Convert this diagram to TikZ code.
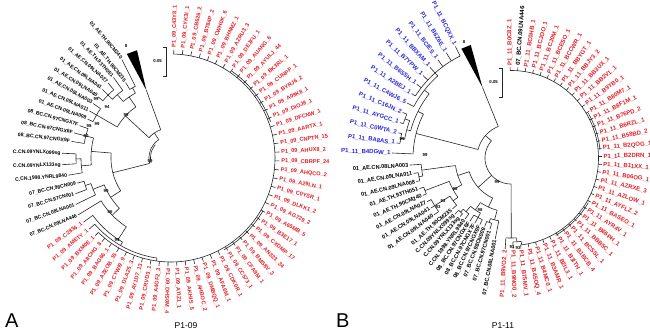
\documentclass[tikz,border=0pt]{standalone}
\usepackage{fontspec}
\setmainfont{Liberation Sans}
\definecolor{tred}{RGB}{228,30,36}
\definecolor{tblue}{RGB}{38,38,220}
\newcommand{\carc}[5]{\draw[br] plot[domain=#4:#5, samples=90, variable=\t] ({#1+#3*cos(\t)},{#2-#3*sin(\t)});}
\newcommand{\crad}[5]{\draw[br] ({#1+#4*cos(#3)},{#2-#4*sin(#3)}) -- ({#1+#5*cos(#3)},{#2-#5*sin(#3)});}
\newcommand{\rlab}[7]{%
 \pgfmathsetmacro{\myLX}{#2+#5*cos(#4)}%
 \pgfmathsetmacro{\myLY}{#3-#5*sin(#4)}%
 \pgfmathsetmacro{\myLC}{cos(#4)}%
 \ifdim\myLC pt<-0.06pt
   \pgfmathsetmacro{\myLR}{#4-180}%
   \node[#6, anchor=east, rotate=\myLR] (#1) at (\myLX,\myLY) {#7};%
 \else
   \node[#6, anchor=west, rotate=#4] (#1) at (\myLX,\myLY) {#7};%
 \fi}
\newcommand{\tlab}[7]{%
 \pgfmathsetmacro{\myLX}{#2+#5*cos(#4)}%
 \pgfmathsetmacro{\myLY}{#3-#5*sin(#4)}%
 \node[blabA, anchor=east, rotate=#6] (#1) at (\myLX,\myLY) {#7};}
\begin{document}
\begin{tikzpicture}[x=1pt,y=-1pt,
  br/.style={line width=0.6pt, black!85},
  lab/.style={inner sep=0pt, outer sep=0pt, font=\fontsize{5.6}{5.6}\selectfont\bfseries},
  redlabA/.style={lab, text=tred},
  redlabB/.style={lab, font=\fontsize{6}{6}\selectfont\bfseries},
  bluelab/.style={lab, text=tblue, font=\fontsize{6}{6}\selectfont\bfseries},
  blabA/.style={lab, font=\fontsize{5.1}{5.1}\selectfont\bfseries},
  blabB/.style={lab, font=\fontsize{5.6}{5.6}\selectfont\bfseries},
  boot/.style={inner sep=0pt, font=\fontsize{4.3}{4.3}\selectfont\bfseries},
  panel/.style={inner sep=0pt, font=\fontsize{20}{20}\selectfont},
  captxt/.style={inner sep=0pt, font=\fontsize{8.5}{8.5}\selectfont}]
\useasboundingbox (0,0) rectangle (650,332);
\fill[white] (0,0) rectangle (650,332);

%================ PANEL A (centre 171,158) =================
\carc{171}{158}{30}{110}{137.25}
\carc{171}{158}{22}{123.6}{194.2}
\carc{171}{158}{20.5}{140}{194.2}
\crad{171}{158}{123.6}{22}{30}
\crad{171}{158}{110}{30}{72}
\fill ({171+72*cos(110)},{158-72*sin(110)}) -- ({171+113*cos(107.5)},{158-113*sin(107.5)}) -- ({171+113*cos(113)},{158-113*sin(113)}) -- cycle;
\crad{171}{158}{137.25}{30}{62}
\crad{171}{158}{194.2}{22}{60}
% 01_AE clade
\carc{171}{158}{62}{124.5}{150}
\crad{171}{158}{124.5}{62}{74}
\carc{171}{158}{74}{118.75}{130.25}
\crad{171}{158}{118.75}{74}{80}
\carc{171}{158}{80}{116.5}{121}
\crad{171}{158}{116.5}{80}{110}
\crad{171}{158}{121}{80}{88}
\crad{171}{158}{130.25}{74}{83}
\carc{171}{158}{83}{125.5}{135}
\crad{171}{158}{125.5}{83}{99}
\crad{171}{158}{135}{83}{89}
\carc{171}{158}{89}{130}{140}
\crad{171}{158}{130}{89}{98}
\crad{171}{158}{135}{89}{97}
\crad{171}{158}{140}{89}{95}
\crad{171}{158}{150}{62}{86}
\carc{171}{158}{86}{145}{155}
\crad{171}{158}{145}{86}{95}
\crad{171}{158}{150}{86}{94}
\crad{171}{158}{155}{86}{92}
% BC / C / 07 clades
\carc{171}{158}{60}{175.25}{213.1}
\crad{171}{158}{175.25}{60}{80}
\carc{171}{158}{80}{165.5}{185}
\crad{171}{158}{165.5}{80}{88}
\carc{171}{158}{88}{160.5}{170.5}
\crad{171}{158}{160.5}{88}{97}
\crad{171}{158}{165.5}{88}{100}
\crad{171}{158}{170.5}{88}{101}
\crad{171}{158}{185}{80}{90}
\carc{171}{158}{90}{180.5}{189.5}
\crad{171}{158}{180.5}{90}{95}
\carc{171}{158}{95}{177.5}{183.5}
\crad{171}{158}{177.5}{95}{109}
\crad{171}{158}{183.5}{95}{109}
\crad{171}{158}{189.5}{90}{104}
\crad{171}{158}{213.1}{60}{72}
\carc{171}{158}{72}{201.9}{224.25}
\crad{171}{158}{201.9}{72}{84}
\carc{171}{158}{84}{197.75}{206}
\crad{171}{158}{197.75}{84}{90}
\carc{171}{158}{90}{195}{200.5}
\crad{171}{158}{195}{90}{97}
\crad{171}{158}{200.5}{90}{102}
\crad{171}{158}{206}{84}{106}
\crad{171}{158}{224.25}{72}{82}
\carc{171}{158}{82}{211.5}{237}
\crad{171}{158}{211.5}{82}{109}
\crad{171}{158}{237}{82}{97}
% red clade A
\carc{171}{158}{97}{216.24}{240}
\crad{171}{158}{216.24}{97}{108.5}
\crad{171}{158}{240}{97}{101}
\carc{171}{158}{101}{220.98}{262}
\crad{171}{158}{220.98}{101}{108.5}
\crad{171}{158}{262}{101}{104}
\carc{171}{158}{104}{225.72}{448.5}
\carc{171}{158}{106}{300}{330}
\carc{171}{158}{106}{20}{55}
\foreach \i in {0,...,47} {\pgfmathsetmacro{\myth}{88.5-4.74*\i}\crad{171}{158}{\myth}{104}{108.5}}
\foreach \nm [count=\i from 0] in {P1\_09\_C43Y8\_1, P1\_09\_CYK3I\_1, P1\_09\_CB626\_2, P1\_09\_BT84P\_2, P1\_09\_CWH0K\_6, P1\_09\_BHNMZ\_1, P1\_09\_AZRU3\_3, P1\_09\_DEJFU\_1, P1\_09\_AUANG\_6, P1\_09\_AYULJ\_44, P1\_09\_BK3RL\_1, P1\_09\_CUNPP\_1, P1\_09\_BYRJ6\_2, P1\_09\_A09K8\_1, P1\_09\_DIOJ8\_1, P1\_09\_DFCNW\_1, P1\_09\_AARTX\_1, P1\_09\_CNPTN\_15, P1\_09\_AHUX8\_2, P1\_09\_CBRPF\_24, P1\_09\_AHQCO\_2, P1\_09\_A29LN\_1, P1\_09\_C0YSR\_1, P1\_09\_DLKK1\_2, P1\_09\_AG729\_2, P1\_09\_A65MB\_5, P1\_09\_B3E17\_1, P1\_09\_CXDMP\_17, P1\_09\_AN323\_34, P1\_09\_BMS8V\_3, P1\_09\_CFA9M\_1, P1\_09\_CC573\_1, P1\_09\_CDK0R\_1, P1\_09\_AFA6M\_1, P1\_09\_DMBQQ\_1, P1\_09\_AHBOC\_2, P1\_09\_AKHIS\_5, P1\_09\_ATIZ1\_1, P1\_09\_DHS0M\_4, P1\_09\_A4GF2\_3, P1\_09\_CRVD3\_1, P1\_09\_AY1D7\_13, P1\_09\_DLA25\_3, P1\_09\_CYWI9\_9, P1\_09\_A2EOB\_15, P1\_09\_BAG66\_1, P1\_09\_A8CHG\_8, P1\_09\_BXM0E\_1, P1\_09\_AMETY\_1, P1\_09\_C2836\_1} {
  \pgfmathsetmacro{\myth}{88.5-4.74*\i}
  \rlab{ra\i}{171}{158}{\myth}{110.5}{redlabA}{\nm}
}
\foreach \ang/\myr/\myrot/\nm [count=\i] in {116.5/111.5/-49.6/01\_AE.TH.90CM240, 121/89.5/-50.8/01\_AE.TH.90CM235, 125.5/100.5/-46.6/01\_AE.TH.93TH051, 130/99.5/-41/01\_AE.CN.09LNA027, 135/98.5/-36/01\_AE.CN.09LNA041, 140/96.5/-32.5/01\_AE.CN.09LNA040, 145/96.5/-29/01\_AE.CN.08LNA003, 150/95.5/-24/01\_AE.CN.09LNA011, 155/93.5/-20.5/01\_AE.CN.09LNA008, 160.5/98.5/-16/08\_BC.CN.97CNGX7F, 165.5/101.5/-11/08\_BC.CN.97CNGX6F, 170.5/102.5/-7/08\_BC.CN.97CNGX9F, 177.5/110.5/-1.4/C.CN.09YNLX099sg, 183.5/110.5/2.4/C.CN.09YNLX133sg, 189.5/105.5/4.6/C.CN.1998.YNRL9840, 195/98.5/12.8/07\_BC.CN.98CN009, 200.5/103.5/15.6/07\_BC.CN.97CN001, 206/107.5/19.3/07\_BC.CN.08LNA001, 211.5/110.5/22.9/07\_BC.CN.09LNA446} {
  \tlab{ka\i}{171}{158}{\ang}{\myr}{\myrot}{\nm}
}
% bootstrap A
\node[boot] (a8) at (126,46) {8};
\node[boot] (a99a) at (126,115) {99};
\node[boot] (a94) at (107,107) {94};
\node[boot] (a99b) at (96,99) {99};
\node[boot] (a98) at (89,126) {98};
\node[boot] (a99c) at (97,124) {99};
\node[boot] (a80) at (86,136) {80};
\node[boot] (a99d) at (106,191) {99};
\node[boot] (a86) at (110,212) {86};
\node[boot] (a99e) at (117,240) {99};
\node[boot] (a59) at (150,161) {59};
\draw[br] (163,47) -- (166,47) -- (166,76) -- (163,76);
\node[boot, anchor=east] (sa) at (162,61.5) {0.05};
\node[panel, anchor=base west] (pA) at (5,327) {A};
\node[captxt] (cA) at (186,326) {P1-09};

%================ PANEL B (centre 511,158) =================
\carc{511}{158}{34}{112}{165.5}
\carc{511}{158}{26}{138.75}{270.2}
\crad{511}{158}{138.75}{26}{34}
\crad{511}{158}{112}{34}{76}
\fill ({511+76*cos(112)},{158-76*sin(112)}) -- ({511+120*cos(109.6)},{158-120*sin(109.6)}) -- ({511+120*cos(114.4)},{158-120*sin(114.4)}) -- cycle;
\crad{511}{158}{165.5}{34}{98}
\crad{511}{158}{221.75}{26}{44}
\crad{511}{158}{270.2}{26}{80}
% blue clade
\carc{511}{158}{98}{153.4}{177.6}
\crad{511}{158}{177.6}{98}{119}
\crad{511}{158}{153.4}{98}{104}
\carc{511}{158}{104}{141.9}{164.85}
\crad{511}{158}{164.85}{104}{108}
\carc{511}{158}{108}{159.75}{169.95}
\crad{511}{158}{159.75}{108}{113}
\carc{511}{158}{113}{157.2}{162.3}
\crad{511}{158}{157.2}{113}{117.5}
\crad{511}{158}{162.3}{113}{116.5}
\crad{511}{158}{169.95}{108}{112}
\carc{511}{158}{112}{167.4}{172.5}
\crad{511}{158}{167.4}{112}{115.5}
\crad{511}{158}{172.5}{112}{115.5}
\crad{511}{158}{141.9}{104}{110}
\carc{511}{158}{110}{131.75}{152.1}
\crad{511}{158}{152.1}{110}{117.5}
\crad{511}{158}{131.75}{110}{114}
\carc{511}{158}{114}{116.5}{147}
\foreach \myr [count=\j from 0] in {126,125,124,123,122,121,120} {\pgfmathsetmacro{\myth}{116.5+5.09*\j}\pgfmathsetmacro{\mye}{\myr-1.5}\crad{511}{158}{\myth}{114}{\mye}}
\foreach \nm/\myr [count=\j from 0] in {P1\_11\_BCQXX\_1/126, P1\_11\_B6Z6E\_1/125, P1\_11\_BCIES\_1/124, P1\_11\_BBXAM\_1/123, P1\_11\_B7YPW\_1/122, P1\_11\_B6SSH\_1/121, P1\_11\_A2BEJ\_1/120, P1\_11\_C4WJ6\_5/119, P1\_11\_C16JN\_2/119, P1\_11\_AYGCC\_1/118, P1\_11\_C0WTA\_2/117, P1\_11\_BA8AS\_1/117, P1\_11\_B4DGW\_1/120.5} {
  \pgfmathsetmacro{\myth}{116.5+5.09*\j}
  \rlab{bl\j}{511}{158}{\myth}{\myr}{bluelab}{\nm}
}
% black clades B
\carc{511}{158}{44}{198.2}{245.3}
\crad{511}{158}{198.2}{44}{56}
\carc{511}{158}{56}{187.75}{208.6}
\crad{511}{158}{187.75}{56}{90}
\carc{511}{158}{90}{184}{191.5}
\crad{511}{158}{184}{90}{101.5}
\crad{511}{158}{191.5}{90}{94}
\carc{511}{158}{94}{189}{194}
\crad{511}{158}{189}{94}{98.5}
\crad{511}{158}{194}{94}{97.5}
\crad{511}{158}{208.6}{56}{66}
\carc{511}{158}{66}{200.75}{216.5}
\crad{511}{158}{200.75}{66}{92}
\carc{511}{158}{92}{198.5}{203}
\crad{511}{158}{198.5}{92}{96.5}
\crad{511}{158}{203}{92}{95.5}
\crad{511}{158}{216.5}{66}{72}
\carc{511}{158}{72}{212}{221}
\crad{511}{158}{221}{72}{77.5}
\crad{511}{158}{212}{72}{90}
\carc{511}{158}{90}{207.5}{216.5}
\crad{511}{158}{207.5}{90}{94.5}
\crad{511}{158}{212}{90}{94.5}
\crad{511}{158}{216.5}{90}{95.5}
\crad{511}{158}{245.3}{44}{54}
\carc{511}{158}{54}{235.5}{255.1}
\crad{511}{158}{235.5}{54}{63}
\carc{511}{158}{63}{230}{241}
\crad{511}{158}{230}{63}{70}
\carc{511}{158}{70}{227}{233}
\crad{511}{158}{227}{70}{74}
\carc{511}{158}{74}{225}{229}
\crad{511}{158}{225}{74}{79.5}
\crad{511}{158}{229}{74}{77.5}
\crad{511}{158}{233}{70}{76.5}
\crad{511}{158}{241}{63}{68}
\carc{511}{158}{68}{237}{245}
\crad{511}{158}{237}{68}{75.5}
\crad{511}{158}{241}{68}{74.5}
\crad{511}{158}{245}{68}{73.5}
\crad{511}{158}{255.1}{54}{64}
\carc{511}{158}{64}{251.25}{259}
\crad{511}{158}{251.25}{64}{68}
\carc{511}{158}{68}{249}{253.5}
\crad{511}{158}{249}{68}{73.5}
\crad{511}{158}{253.5}{68}{74.5}
\crad{511}{158}{259}{64}{82.5}
\foreach \ang/\myr/\nm [count=\k from 0] in {184/103/01\_AE.CN.08LNA003, 189/100/01\_AE.CN.09LNA011, 194/99/01\_AE.CN.09LNA008, 198.5/98/01\_AE.TH.93TH051, 203/97/01\_AE.TH.90CM240, 207.5/96/01\_AE.CN.09LNA027, 212/96/01\_AE.CN.09LNA041, 216.5/97/01\_AE.CN.09LNA040, 221/79/01\_AE.TH.90CM235, 225/81/C.CN.09YNLX099sg, 229/79/C.CN.09YNLX133sg, 233/78/C.CN.1998.YNRL9840, 237/77/08\_BC.CN.97CNGX6F, 241/76/08\_BC.CN.97CNGX7F, 245/75/08\_BC.CN.97CNGX9F, 249/75/07\_BC.CN.98CN009, 253.5/76/07\_BC.CN.97CN001, 259/84/07\_BC.CN.08LNA001} {
  \rlab{kb\k}{511}{158}{\ang}{\myr}{blabB}{\nm}
}
% red clade B
\carc{511}{158}{80}{266.34}{274}
\crad{511}{158}{266.34}{80}{91}
\crad{511}{158}{274}{80}{84}
\carc{511}{158}{84}{271.3}{277}
\crad{511}{158}{271.3}{84}{91}
\crad{511}{158}{277}{84}{87.5}
\carc{511}{158}{87.5}{276.3}{450.6}
\carc{511}{158}{89.3}{300}{330}
\carc{511}{158}{89.3}{5}{30}
\foreach \i in {0,...,35} {\pgfmathsetmacro{\myth}{90.6-4.98*\i}\crad{511}{158}{\myth}{87.5}{91}}
\foreach \nm [count=\i from 0] in {P1\_11\_B0C8Z\_1, 07\_BC.CN.09LNA446, P1\_11\_BC0HB\_1, P1\_11\_BCJOO\_1, P1\_11\_BCJ0M\_1, P1\_11\_BCESO\_1, P1\_11\_BCCWR\_1, P1\_11\_BBYGT\_1, P1\_11\_BBJY3\_2, P1\_11\_BB3UX\_1, P1\_11\_BB2V1\_1, P1\_11\_B9YB0\_1, P1\_11\_B80M7\_1, P1\_11\_B8F1M\_1, P1\_11\_B76PD\_2, P1\_11\_B6RZL\_1, P1\_11\_B58BD\_2, P1\_11\_B2QOG\_1, P1\_11\_B2DRN\_1, P1\_11\_B11XX\_1, P1\_11\_B06OG\_1, P1\_11\_AZRXE\_3, P1\_11\_AZLOW\_1, P1\_11\_AYFLZ\_2, P1\_11\_BASEO\_1, P1\_11\_AYR4V\_1, P1\_11\_B66PH\_1, P1\_11\_BBB5C\_1, P1\_11\_BCSSL\_1, P1\_11\_B1BCB\_4, P1\_11\_B3ITH\_1, P1\_11\_B2IL3\_1, P1\_11\_B3AMR\_1, P1\_11\_B4MC0\_1, P1\_11\_B4SOQ\_4, P1\_11\_B75MV\_1, P1\_11\_B9NO0\_2, P1\_11\_B9VO2\_2} {
  \pgfmathsetmacro{\myth}{90.6-4.98*\i}
  \def\mycol{tred}\ifnum\i=1 \def\mycol{black}\fi
  \rlab{rb\i}{511}{158}{\myth}{92.5}{redlabB, text=\mycol}{\nm}
}
% bootstrap B
\node[boot] (b8) at (464,42) {8};
\node[boot] (b99a) at (402,139) {99};
\node[boot] (b99b) at (425,155) {99};
\node[boot] (b98a) at (455,189) {98};
\node[boot] (b93a) at (443,201) {93};
\node[boot] (b93b) at (438,207) {93};
\node[boot] (b98b) at (480,210) {98};
\node[boot] (b99c) at (497,182) {99};
\node[boot] (b91) at (512,247) {91};
\node[boot] (b93c) at (518,248) {93};
\draw[br] (499,68) -- (502,68) -- (502,97) -- (499,97);
\node[boot, anchor=east] (sb) at (498,82.5) {0.05};
\node[panel, anchor=base west] (pB) at (336,327) {B};
\node[captxt] (cB) at (503,326) {P1-11};
\end{tikzpicture}
\end{document}
